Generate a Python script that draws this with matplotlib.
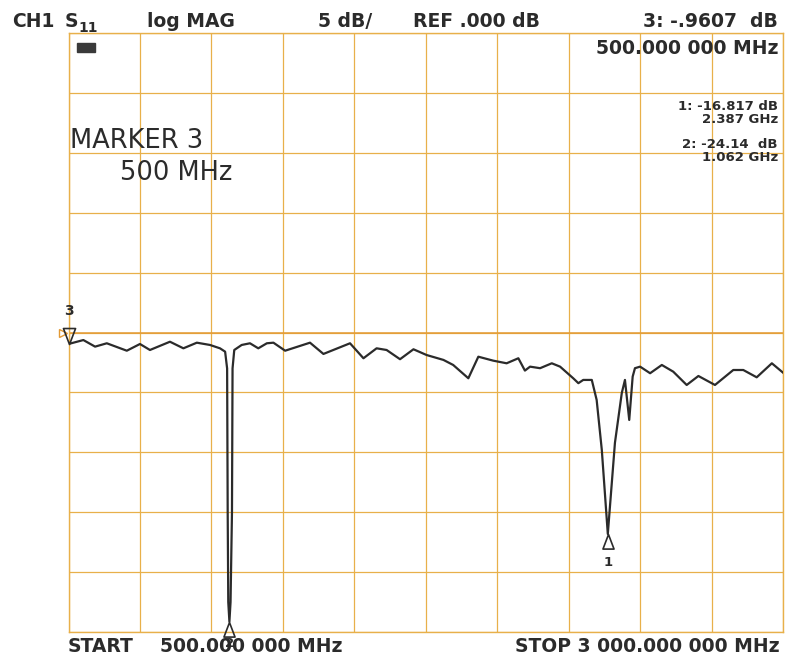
import numpy as np
import matplotlib
matplotlib.use('Agg')
import matplotlib.pyplot as plt
from matplotlib.path import Path
from matplotlib.patches import Rectangle

# S11 trace (MHz, dB)
freq_mhz = [500, 552, 593, 634, 704, 750, 785, 855, 902, 949, 995, 1030,
            1048, 1055, 1057, 1059, 1063, 1067, 1072, 1074, 1080, 1106, 1135,
            1164, 1194, 1217, 1258, 1345, 1392, 1485, 1532, 1578, 1613, 1660,
            1707, 1753, 1812, 1846, 1899, 1934, 1986, 2033, 2074, 2097, 2115,
            2150, 2191, 2220, 2266, 2284, 2301, 2331, 2348, 2366, 2387, 2412,
            2436, 2447, 2462, 2474, 2482, 2500, 2535, 2576, 2616, 2663, 2704,
            2762, 2826, 2861, 2908, 2961, 3000]
s11_db = [-0.96, -0.63, -1.18, -0.90, -1.52, -0.96, -1.46, -0.77, -1.32,
          -0.85, -1.04, -1.32, -1.60, -3.0, -15.0, -22.5, -24.14, -22.5,
          -15.0, -3.0, -1.46, -1.04, -0.90, -1.32, -0.90, -0.85, -1.52,
          -0.85, -1.79, -0.90, -2.15, -1.32, -1.46, -2.23, -1.40, -1.88,
          -2.29, -2.71, -3.82, -2.02, -2.35, -2.57, -2.15, -3.18, -2.85,
          -2.98, -2.57, -2.85, -3.82, -4.23, -3.96, -3.96, -5.63, -9.8,
          -16.817, -9.2, -5.04, -3.96, -7.3, -3.68, -2.98, -2.85, -3.40,
          -2.71, -3.27, -4.38, -3.63, -4.38, -3.13, -3.13, -3.74, -2.57,
          -3.35]

mk_num = ['1', '2', '3']
mk_freq = [2387, 1062, 500]
mk_db = [-16.817, -24.14, -0.9607]

W, H = 787, 656
grid_c = '#e8b04a'
ink = '#2b2b2b'

fig = plt.figure(figsize=(W / 100, H / 100), dpi=100)
fig.patch.set_facecolor('white')
ax = fig.add_axes([68.5 / W, 24 / H, 714.5 / W, 599 / H])
ax.set_xlim(500, 3000)
ax.set_ylim(-25, 25)
ax.set_xticks(np.linspace(500, 3000, 11))
ax.set_yticks(np.arange(-25, 26, 5))
ax.tick_params(length=0, labelbottom=False, labelleft=False)
ax.grid(color=grid_c, lw=0.9)
for s in ax.spines.values():
    s.set_color(grid_c)
    s.set_linewidth(1.0)
ax.axhline(0, color='#e39a35', lw=1.1)

ax.plot(freq_mhz, s11_db, color=ink, lw=1.6, zorder=3)

# marker triangles, apex on the trace
up = Path([(0, 0), (-0.38, -1), (0.38, -1), (0, 0)],
          [Path.MOVETO, Path.LINETO, Path.LINETO, Path.CLOSEPOLY])
down = Path([(0, 0), (-0.38, 1), (0.38, 1), (0, 0)],
            [Path.MOVETO, Path.LINETO, Path.LINETO, Path.CLOSEPOLY])
lab_off = {'1': -16, '2': -11, '3': 19}
for n, f, d in zip(mk_num, mk_freq, mk_db):
    if n == '3':
        ax.plot(f, d, marker=down, ms=23, mfc='none', mec=ink, mew=1.2,
                clip_on=False, zorder=4)
        ax.annotate(n, (f, d), xytext=(0, lab_off[n]), textcoords='offset points',
                    ha='center', va='bottom', fontsize=10, fontweight='bold',
                    color=ink, annotation_clip=False)
    else:
        ax.plot(f, d, marker=up, ms=21, mfc='none', mec=ink, mew=1.2,
                clip_on=False, zorder=4)
        ax.annotate(n, (f, d), xytext=(0, lab_off[n]), textcoords='offset points',
                    ha='center', va='top', fontsize=9.5, fontweight='bold',
                    color=ink, annotation_clip=False)

# reference position indicator
ax.plot([-0.008], [0], marker='>', ms=6, mfc='none', mec='#e39a35', mew=1.0,
        transform=ax.get_yaxis_transform(), clip_on=False)


def txt(x, y, s, size=13.5, weight='bold', ha='left'):
    fig.text(x / W, 1 - y / H, s, fontsize=size, fontweight=weight, ha=ha,
             va='baseline', color=ink, family='DejaVu Sans')


# header
txt(12, 27, 'CH1')
txt(65, 27, 'S')
txt(78, 32, '11', size=10)
txt(147, 27, 'log MAG')
txt(318, 27, '5 dB/')
txt(413, 27, 'REF .000 dB')
txt(778, 27, '3: -.9607  dB', ha='right')
txt(778, 54, '500.000 000 MHz', ha='right')
txt(778, 110, '1: -16.817 dB', size=9.5, ha='right')
txt(778, 123, '2.387 GHz', size=9.5, ha='right')
txt(778, 148, '2: -24.14  dB', size=9.5, ha='right')
txt(778, 161, '1.062 GHz', size=9.5, ha='right')

txt(70, 148, 'MARKER 3', size=18.5, weight='normal')
txt(120, 180, '500 MHz', size=18.5, weight='normal')

txt(68, 652, 'START')
txt(160, 652, '500.000 000 MHz')
txt(780, 652, 'STOP 3 000.000 000 MHz', ha='right')

# small status box
fig.patches.append(Rectangle((77 / W, 1 - 52 / H), 18 / W, 9 / H,
                             transform=fig.transFigure, facecolor='#3a3a3a',
                             edgecolor='#3a3a3a'))

fig.savefig('out.png', dpi=100)
